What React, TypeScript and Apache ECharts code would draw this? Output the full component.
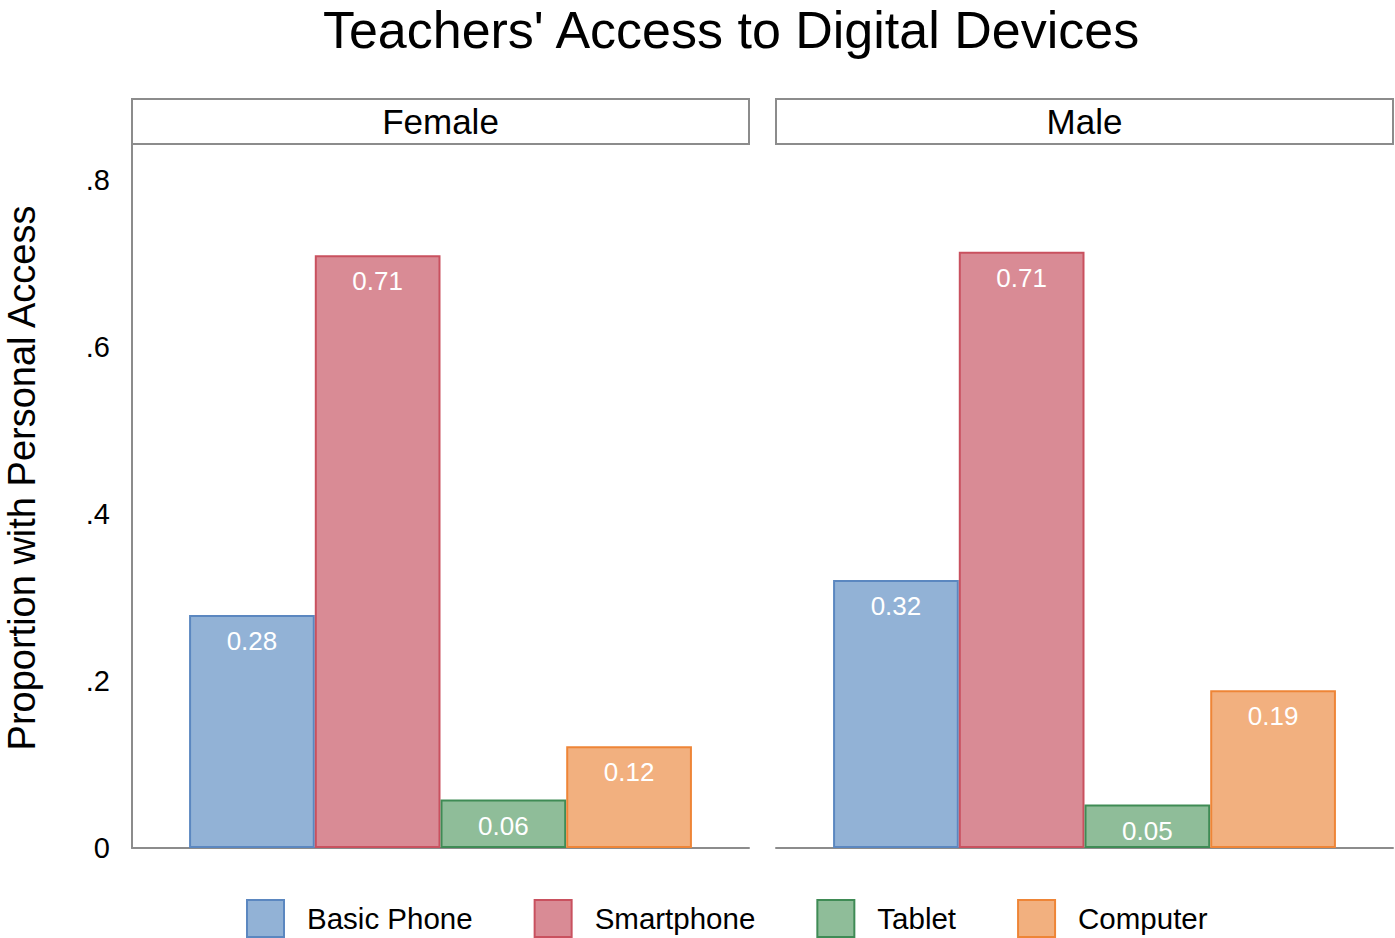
import React, { useEffect, useRef } from "react";
import * as echarts from "echarts";

const panels = ["Female", "Male"];
const devices = ["Basic Phone", "Smartphone", "Tablet", "Computer"];
const femaleValues = [0.279, 0.71, 0.058, 0.122];
const maleValues = [0.321, 0.714, 0.052, 0.189];
const yTicks = [0, 0.2, 0.4, 0.6, 0.8];
const fillColors = ["#92b2d6", "#d98b95", "#8fbd99", "#f2b07f"];
const borderColors = ["#5b87c0", "#c9515f", "#3f8b55", "#ee8537"];

const FONT = "'Liberation Sans', Arial, sans-serif";

export default function App() {
  const ref = useRef<HTMLDivElement>(null);
  useEffect(() => {
    document.body.style.margin = "0";
    const chart = echarts.init(ref.current!, null, { renderer: "svg" });
    const gridLefts = [132, 776];
    const gridW = 617;
    const top = 145;
    const bottom = 848;
    const yMax = 0.842;
    const dataSets = [femaleValues, maleValues];

    const series: any[] = [];
    dataSets.forEach((vals, gi) => {
      devices.forEach((d, i) => {
        series.push({
          type: "bar",
          name: d,
          xAxisIndex: gi,
          yAxisIndex: gi,
          data: [vals[i]],
          barGap: "0%",
          barCategoryGap: "18.5%",
          itemStyle: {
            color: fillColors[i],
            borderColor: borderColors[i],
            borderWidth: 2,
          },
          label: {
            show: true,
            position: "insideTop",
            distance: 13,
            color: "#ffffff",
            fontSize: 26,
            fontFamily: FONT,
            formatter: (p: any) => Number(p.value).toFixed(2),
          },
        });
      });
    });

    const graphic: any[] = [];
    panels.forEach((p, gi) => {
      graphic.push({
        type: "rect",
        shape: { x: gridLefts[gi], y: 99, width: gridW, height: 45 },
        style: { fill: "#ffffff", stroke: "#8c8c8c", lineWidth: 2 },
      });
      graphic.push({
        type: "text",
        x: gridLefts[gi] + gridW / 2,
        y: 121,
        style: {
          text: p,
          fontSize: 35,
          fontFamily: FONT,
          fill: "#000",
          align: "center",
          verticalAlign: "middle",
        },
      });
    });
    graphic.push({
      type: "text",
      x: 22,
      y: 478,
      rotation: Math.PI / 2,
      style: {
        text: "Proportion with Personal Access",
        fontSize: 38,
        fontFamily: FONT,
        fill: "#000",
        align: "center",
        verticalAlign: "middle",
      },
    });
    graphic.push({
      type: "text",
      x: 731,
      y: 30,
      style: {
        text: "Teachers' Access to Digital Devices",
        fontSize: 52,
        fontFamily: FONT,
        fill: "#000",
        align: "center",
        verticalAlign: "middle",
      },
    });

    chart.setOption({
      animation: false,
      backgroundColor: "#ffffff",
      legend: {
        data: devices,
        left: 246,
        top: 899,
        padding: 0,
        itemWidth: 37,
        itemHeight: 37,
        itemGap: 61,
        icon: "rect",
        textStyle: { fontSize: 29.5, color: "#000", fontFamily: FONT, padding: [0, 0, 0, 18] },
      },
      grid: gridLefts.map((l) => ({
        left: l,
        width: gridW,
        top: top,
        height: bottom - top,
        containLabel: false,
      })),
      xAxis: gridLefts.map((_, gi) => ({
        type: "category",
        gridIndex: gi,
        data: [panels[gi]],
        axisLine: { show: true, lineStyle: { color: "#8c8c8c", width: 2 } },
        axisTick: { show: false },
        axisLabel: { show: false },
      })),
      yAxis: gridLefts.map((_, gi) => ({
        type: "value",
        gridIndex: gi,
        min: 0,
        max: yMax,
        interval: 0.2,
        splitLine: { show: false },
        axisTick: { show: false },
        axisLine: { show: gi === 0, lineStyle: { color: "#8c8c8c", width: 2 } },
        axisLabel: {
          show: gi === 0,
          showMaxLabel: false,
          margin: 22,
          fontSize: 29,
          color: "#000",
          fontFamily: FONT,
          formatter: (v: number) => {
            const t = yTicks.find((k) => Math.abs(k - v) < 1e-6);
            if (t === undefined) return "";
            return t === 0 ? "0" : t.toFixed(1).replace(/^0/, "");
          },
        },
      })),
      series,
      graphic,
    });
    return () => chart.dispose();
  }, []);
  return <div ref={ref} style={{ position: "absolute", left: 0, top: 0, width: 1395, height: 938 }} />;
}
